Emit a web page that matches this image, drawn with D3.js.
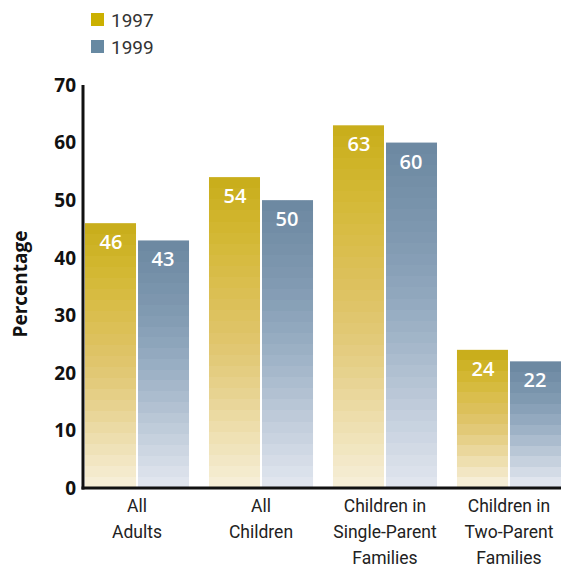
<!DOCTYPE html>
<html>
<head>
<meta charset="utf-8">
<script src="https://cdn.jsdelivr.net/npm/d3@7"></script>
<style>
  body { margin: 0; background: #fff; }
  svg text { font-family: "Open Sans", "Noto Sans", sans-serif; }
  svg text.narrow { font-family: "Roboto", "Liberation Sans", sans-serif; }
</style>
</head>
<body>
<svg></svg>
<script>
const categories = [["All", "Adults"], ["All", "Children"], ["Children in", "Single-Parent", "Families"], ["Children in", "Two-Parent", "Families"]];
const years = ["1997", "1999"];
const values1997 = [46, 54, 63, 24];
const values1999 = [43, 50, 60, 22];
const yTicks = [0, 10, 20, 30, 40, 50, 60, 70];

const width = 561, height = 569;
const svg = d3.select("svg").attr("width", width).attr("height", height);

const x0 = d3.scaleBand().domain(d3.range(categories.length)).range([85, 561]).paddingInner(0.161).paddingOuter(0);
const x1 = d3.scaleBand().domain(years).range([0, x0.bandwidth()]);
const y = d3.scaleLinear().domain([0, 70]).range([488, 85]);

// colour ramps from top of bar (t=0) to bottom (t=1)
const ramps = {
    "1997": ["#c9ae1c", "#d5ba36", "#dcbf58", "#e2c978", "#ecdca8", "#f6eed6"],
    "1999": ["#6d89a2", "#7a94ac", "#8ba3ba", "#a5b8cb", "#c4cfdd", "#e0e5ee"]
};
const legendColor = { "1997": "#cbb000", "1999": "#6789a2" };

const defs = svg.append("defs");
const bars = [];
categories.forEach((c, i) => {
    bars.push({ i, year: "1997", v: values1997[i] });
    bars.push({ i, year: "1999", v: values1999[i] });
});

bars.forEach((b, k) => {
    const h = y(0) - y(b.v);
    const n = Math.max(4, Math.round(h / 11));
    const interp = d3.interpolateRgbBasis(ramps[b.year]);
    const g = defs.append("linearGradient").attr("id", "grad" + k)
        .attr("x1", 0).attr("y1", 0).attr("x2", 0).attr("y2", 1);
    for (let s = 0; s < n; s++) {
        const col = interp(s / (n - 1));
        g.append("stop").attr("offset", s / n).attr("stop-color", col);
        g.append("stop").attr("offset", (s + 1) / n).attr("stop-color", col);
    }
});

svg.append("g").selectAll("rect").data(bars).join("rect")
    .attr("x", d => x0(d.i) + x1(d.year) + (d.year === "1999" ? 1 : 0))
    .attr("y", d => y(d.v))
    .attr("width", d => x1.bandwidth() - 1)
    .attr("height", d => y(0) - y(d.v))
    .attr("fill", (d, k) => "url(#grad" + k + ")");

svg.append("g").selectAll("text").data(bars).join("text")
    .attr("x", d => x0(d.i) + x1(d.year) + x1.bandwidth() / 2)
    .attr("y", d => y(d.v) + 26)
    .attr("text-anchor", "middle")
    .attr("fill", "#fff")
    .attr("font-size", 20)
    .attr("font-weight", 600)
    .text(d => d.v);

// axes
svg.append("line").attr("x1", 83).attr("x2", 83).attr("y1", y(70)).attr("y2", y(0) + 1.5)
    .attr("stroke", "#111").attr("stroke-width", 3);
svg.append("line").attr("x1", 81.5).attr("x2", 561).attr("y1", y(0)).attr("y2", y(0))
    .attr("stroke", "#111").attr("stroke-width", 3);

svg.append("g").selectAll("text").data(yTicks).join("text")
    .attr("x", 76)
    .attr("y", d => y(d))
    .attr("dy", "0.36em")
    .attr("text-anchor", "end")
    .attr("font-size", 19)
    .attr("font-weight", "bold")
    .attr("fill", "#111")
    .text(d => d);

svg.append("text")
    .attr("transform", "translate(27,284) rotate(-90)")
    .attr("text-anchor", "middle")
    .attr("font-size", 19)
    .attr("font-weight", "bold")
    .attr("fill", "#111")
    .text("Percentage");

// category labels
const cat = svg.append("g").selectAll("text").data(categories).join("text")
    .attr("class", "narrow")
    .attr("x", (d, i) => x0(i) + x0.bandwidth() / 2)
    .attr("y", 512)
    .attr("text-anchor", "middle")
    .attr("font-size", 17.5)
    .attr("fill", "#222");
cat.selectAll("tspan").data(d => d).join("tspan")
    .attr("x", function() { return d3.select(this.parentNode).attr("x"); })
    .attr("dy", (d, j) => j === 0 ? 0 : 26)
    .text(d => d);

// legend
const legend = svg.append("g").selectAll("g").data(years).join("g")
    .attr("transform", (d, i) => "translate(91," + (13 + i * 27) + ")");
legend.append("rect").attr("width", 13).attr("height", 13).attr("fill", d => legendColor[d]);
legend.append("text").attr("class", "narrow").attr("x", 20).attr("y", 7).attr("dy", "0.36em")
    .attr("font-size", 19).attr("fill", "#333")
    .text(d => d);
</script>
</body>
</html>
